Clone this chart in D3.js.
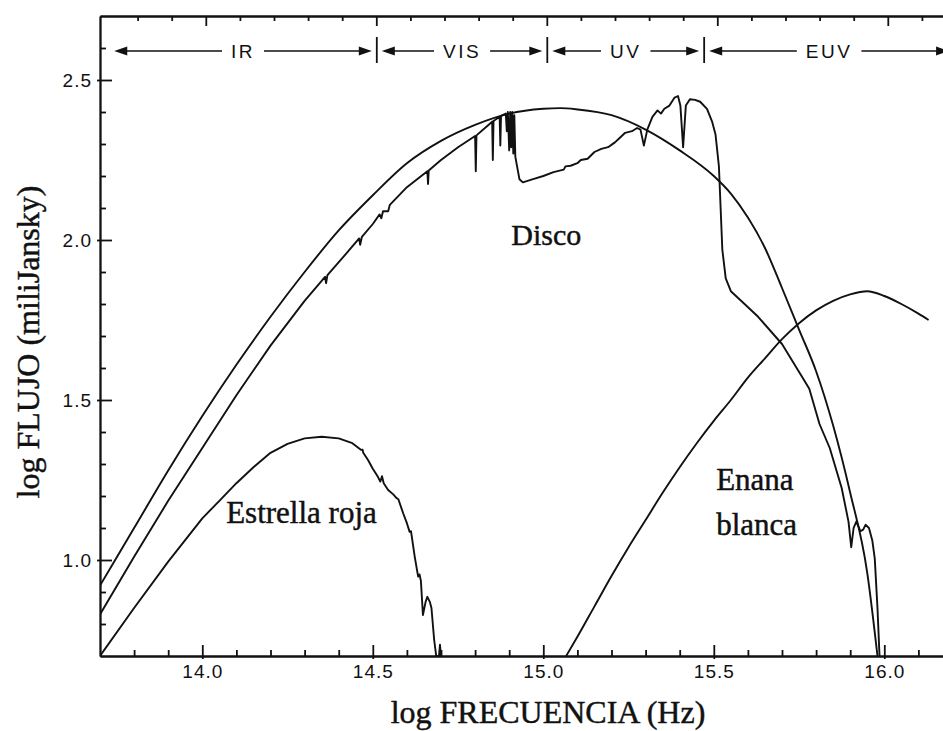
<!DOCTYPE html>
<html>
<head>
<meta charset="utf-8">
<script src="https://cdn.jsdelivr.net/npm/d3@7"></script>
<style>
  body { margin: 0; background: #fff; }
  svg { display: block; }
  .curve { fill: none; stroke: #111; stroke-width: 1.9; stroke-linejoin: round; }
  .axis path, .axis line { stroke: #111; stroke-width: 1.8; }
  .axis text { font-family: "Liberation Sans", Arial, sans-serif; font-size: 19px; fill: #111; letter-spacing: 1px; }
  .label { font-family: "Liberation Serif", "Times New Roman", serif; fill: #111; stroke: #111; stroke-width: 0.45px; }
  .band { font-family: "Liberation Sans", Arial, sans-serif; font-size: 19px; fill: #111; letter-spacing: 2.5px; }
</style>
</head>
<body>
<div id="chart"></div>
<script>
// ---- data (log nu [Hz], log F [mJy]) ----
const discoEnvelope = [
  [13.70,0.92],[13.80,1.10],[13.90,1.28],[14.00,1.45],[14.10,1.61],[14.20,1.76],
  [14.30,1.90],[14.40,2.03],[14.50,2.14],[14.60,2.24],[14.70,2.31],[14.80,2.36],
  [14.90,2.395],[15.00,2.41],[15.05,2.412],[15.10,2.408],[15.20,2.39],[15.30,2.345],
  [15.40,2.28],[15.50,2.20],[15.55,2.145],[15.60,2.07],[15.65,1.975],[15.70,1.85],
  [15.75,1.72],[15.80,1.59],[15.85,1.42],[15.90,1.21],[15.95,0.96],[15.98,0.70]
];

const discoSpectrum = [
  [13.70,0.83],[13.80,1.01],[13.90,1.185],[14.00,1.35],[14.10,1.515],[14.20,1.67],
  [14.30,1.81],[14.36,1.885],[14.363,1.865],[14.367,1.89],[14.42,1.955],[14.46,2.005],
  [14.463,1.985],[14.468,2.01],[14.50,2.05],[14.52,2.08],[14.525,2.068],[14.53,2.09],
  [14.545,2.09],[14.55,2.11],[14.60,2.165],[14.66,2.215],[14.662,2.175],[14.664,2.217],
  [14.70,2.25],[14.75,2.29],[14.80,2.325],[14.802,2.215],[14.804,2.327],[14.84,2.36],
  [14.85,2.37],[14.852,2.25],[14.854,2.372],[14.872,2.385],[14.874,2.295],[14.876,2.388],
  [14.89,2.395],[14.893,2.34],[14.896,2.40],[14.90,2.28],[14.903,2.40],[14.906,2.29],
  [14.909,2.40],[14.912,2.27],[14.915,2.39],[14.918,2.26],[14.93,2.19],[14.94,2.18],
  [14.97,2.19],[15.00,2.20],[15.03,2.212],[15.06,2.22],[15.065,2.23],[15.08,2.232],
  [15.10,2.24],[15.11,2.25],[15.13,2.254],[15.15,2.275],[15.17,2.285],[15.19,2.29],
  [15.21,2.305],[15.22,2.315],[15.24,2.335],[15.26,2.34],[15.275,2.35],[15.285,2.345],
  [15.295,2.295],[15.305,2.345],[15.32,2.385],[15.335,2.405],[15.345,2.395],[15.355,2.41],
  [15.37,2.42],[15.385,2.445],[15.395,2.45],[15.402,2.42],[15.41,2.29],[15.418,2.42],
  [15.43,2.44],[15.445,2.438],[15.46,2.432],[15.48,2.41],[15.495,2.37],[15.505,2.33],
  [15.515,2.23],[15.52,2.10],[15.525,1.97],[15.535,1.88],[15.55,1.84],[15.58,1.81],
  [15.63,1.76],[15.70,1.675],[15.76,1.57],[15.78,1.535],[15.81,1.425],[15.84,1.35],
  [15.875,1.225],[15.895,1.12],[15.903,1.04],[15.91,1.10],[15.918,1.12],[15.93,1.09],
  [15.938,1.095],[15.945,1.11],[15.955,1.10],[15.965,1.06],[15.972,1.005],[15.98,0.85],
  [15.986,0.70]
];

const redStar = [
  [13.70,0.70],[13.80,0.85],[13.90,0.995],[14.00,1.13],[14.05,1.185],[14.10,1.24],
  [14.15,1.29],[14.20,1.335],[14.25,1.363],[14.30,1.38],[14.35,1.385],[14.40,1.38],
  [14.44,1.365],[14.466,1.344],[14.47,1.345],[14.472,1.335],[14.486,1.3125],[14.50,1.285],
  [14.515,1.26],[14.522,1.245],[14.527,1.262],[14.532,1.24],[14.545,1.219],[14.56,1.205],
  [14.569,1.194],[14.575,1.19],[14.589,1.146],[14.60,1.115],[14.608,1.088],[14.612,1.09],
  [14.623,1.01],[14.633,0.948],[14.637,0.955],[14.641,0.935],[14.647,0.828],[14.655,0.87],
  [14.66,0.885],[14.667,0.87],[14.672,0.85],[14.68,0.75],[14.686,0.70],[14.694,0.70],
  [14.697,0.735],[14.70,0.70]
];

const whiteDwarf = [
  [15.067,0.70],[15.10,0.76],[15.15,0.855],[15.20,0.95],[15.25,1.04],[15.30,1.125],
  [15.35,1.21],[15.40,1.29],[15.45,1.365],[15.50,1.435],[15.55,1.50],[15.60,1.57],
  [15.65,1.63],[15.70,1.69],[15.75,1.74],[15.80,1.78],[15.85,1.81],[15.90,1.83],
  [15.95,1.84],[16.00,1.825],[16.05,1.80],[16.10,1.77],[16.13,1.75]
];

const bandNames = ["IR", "VIS", "UV", "EUV"];
const bandEdges = [13.73, 14.5, 15.0, 15.46, 16.19];

const xMajorTicks = [14.0, 14.5, 15.0, 15.5, 16.0];
const xMinorTicks = [13.8, 13.9, 14.1, 14.2, 14.3, 14.4, 14.6, 14.7, 14.8, 14.9,
                     15.1, 15.2, 15.3, 15.4, 15.6, 15.7, 15.8, 15.9, 16.1];
const yMajorTicks = [1.0, 1.5, 2.0, 2.5];
const yMinorTicks = [0.8, 0.9, 1.1, 1.2, 1.3, 1.4, 1.6, 1.7, 1.8, 1.9,
                     2.1, 2.2, 2.3, 2.4, 2.6];

// ---- layout ----
const width = 943, height = 731;
const plot = {left: 100, top: 16, bottom: 656, right: 952.5};
const topSkew = 4; // the scan is slightly sheared: top ticks sit a few px right

const svg = d3.select("#chart")
  .append("svg")
  .attr("width", width)
  .attr("height", height);

const xScale = d3.scaleLinear()
  .domain([13.7, 16.2])
  .range([plot.left, plot.right]);

const yScale = d3.scaleLinear()
  .domain([0.7, 2.7])
  .range([plot.bottom, plot.top]);

svg.append("clipPath")
  .attr("id", "clip")
  .append("rect")
  .attr("x", plot.left)
  .attr("y", plot.top)
  .attr("width", plot.right - plot.left)
  .attr("height", plot.bottom - plot.top);

// ---- axes ----
svg.append("g")
  .attr("class", "axis")
  .attr("transform", `translate(0, ${plot.bottom})`)
  .call(d3.axisBottom(xScale).tickValues(xMinorTicks).tickFormat("").tickSize(-6).tickSizeOuter(0));

const bottomMajor = svg.append("g")
  .attr("class", "axis")
  .attr("transform", `translate(0, ${plot.bottom})`)
  .call(d3.axisBottom(xScale)
    .tickValues(xMajorTicks)
    .tickFormat(d3.format(".1f"))
    .tickSize(-11)
    .tickPadding(9)
    .tickSizeOuter(0));
bottomMajor.selectAll(".tick line").attr("y1", 3);

const topMinor = svg.append("g")
  .attr("class", "axis")
  .attr("transform", `translate(0, ${plot.top})`)
  .call(d3.axisTop(xScale).tickValues(xMinorTicks).tickFormat("").tickSize(-5).tickSizeOuter(0));
const topMajor = svg.append("g")
  .attr("class", "axis")
  .attr("transform", `translate(0, ${plot.top})`)
  .call(d3.axisTop(xScale).tickValues(xMajorTicks).tickFormat("").tickSize(-10).tickSizeOuter(0));
[topMinor, topMajor].forEach(g => {
  g.selectAll(".tick").attr("transform", d => `translate(${xScale(d) + topSkew}, 0)`);
});

svg.append("g")
  .attr("class", "axis")
  .attr("transform", `translate(${plot.left}, 0)`)
  .call(d3.axisLeft(yScale).tickValues(yMinorTicks).tickFormat("").tickSize(-6).tickSizeOuter(0));

const leftMajor = svg.append("g")
  .attr("class", "axis")
  .attr("transform", `translate(${plot.left}, 0)`)
  .call(d3.axisLeft(yScale)
    .tickValues(yMajorTicks)
    .tickFormat(d3.format(".1f"))
    .tickSize(-12)
    .tickPadding(8)
    .tickSizeOuter(0));
leftMajor.selectAll(".tick line").attr("x1", -3);

svg.selectAll(".axis").attr("font-size", null).attr("font-family", null);

// ---- curves ----
const smoothLine = d3.line()
  .x(d => xScale(d[0]))
  .y(d => yScale(d[1]))
  .curve(d3.curveMonotoneX);

const rawLine = d3.line()
  .x(d => xScale(d[0]))
  .y(d => yScale(d[1]));

const curves = svg.append("g").attr("clip-path", "url(#clip)");

curves.append("path").attr("class", "curve").attr("d", smoothLine(discoEnvelope));
curves.append("path").attr("class", "curve").attr("d", rawLine(discoSpectrum));
curves.append("path").attr("class", "curve").attr("d", rawLine(redStar));
curves.append("path").attr("class", "curve").attr("d", smoothLine(whiteDwarf));

// ---- spectral band arrows ----
const bandY = 51;
const bands = svg.append("g").attr("transform", `translate(${topSkew}, 0)`);

bandEdges.slice(1, -1).forEach(e => {
  bands.append("line")
    .attr("x1", xScale(e)).attr("x2", xScale(e))
    .attr("y1", bandY - 14).attr("y2", bandY + 12)
    .attr("stroke", "#111").attr("stroke-width", 1.8);
});

bandNames.forEach((name, i) => {
  const x0 = xScale(bandEdges[i]) + (i > 0 ? 5 : 0);
  const x1 = xScale(bandEdges[i + 1]) - (i < bandNames.length - 1 ? 5 : 0) - (i === bandNames.length - 1 ? topSkew : 0);
  const cx = (x0 + x1) / 2;
  const t = bands.append("text")
    .attr("class", "band")
    .attr("x", cx)
    .attr("y", bandY + 7)
    .attr("text-anchor", "middle")
    .text(name);
  const tw = t.node().getComputedTextLength();
  const gap = 9;

  bands.append("line")
    .attr("x1", x0 + 10).attr("x2", cx - tw / 2 - gap)
    .attr("y1", bandY).attr("y2", bandY)
    .attr("stroke", "#111").attr("stroke-width", 1.6);
  bands.append("line")
    .attr("x1", cx + tw / 2 + gap).attr("x2", x1 - 10)
    .attr("y1", bandY).attr("y2", bandY)
    .attr("stroke", "#111").attr("stroke-width", 1.6);

  bands.append("path")
    .attr("d", `M${x0},${bandY}L${x0 + 13},${bandY - 4.5}L${x0 + 13},${bandY + 4.5}Z`)
    .attr("fill", "#111");
  bands.append("path")
    .attr("d", `M${x1},${bandY}L${x1 - 13},${bandY - 4.5}L${x1 - 13},${bandY + 4.5}Z`)
    .attr("fill", "#111");
});

// ---- curve labels ----
svg.append("text").attr("class", "label")
  .attr("x", xScale(14.906)).attr("y", yScale(1.984))
  .attr("font-size", 30)
  .text("Disco");

svg.append("text").attr("class", "label")
  .attr("x", xScale(14.07)).attr("y", yScale(1.116))
  .attr("font-size", 31)
  .text("Estrella roja");

svg.append("text").attr("class", "label")
  .attr("x", xScale(15.507)).attr("y", yScale(1.219))
  .attr("font-size", 31)
  .text("Enana");

svg.append("text").attr("class", "label")
  .attr("x", xScale(15.507)).attr("y", yScale(1.078))
  .attr("font-size", 31)
  .text("blanca");

// ---- axis titles ----
svg.append("text").attr("class", "label")
  .attr("x", 548).attr("y", 723)
  .attr("text-anchor", "middle")
  .attr("font-size", 32)
  .text("log FRECUENCIA (Hz)");

svg.append("text").attr("class", "label")
  .attr("transform", "translate(39, 342) rotate(-90)")
  .attr("text-anchor", "middle")
  .attr("font-size", 32)
  .text("log FLUJO (miliJansky)");
</script>
</body>
</html>
